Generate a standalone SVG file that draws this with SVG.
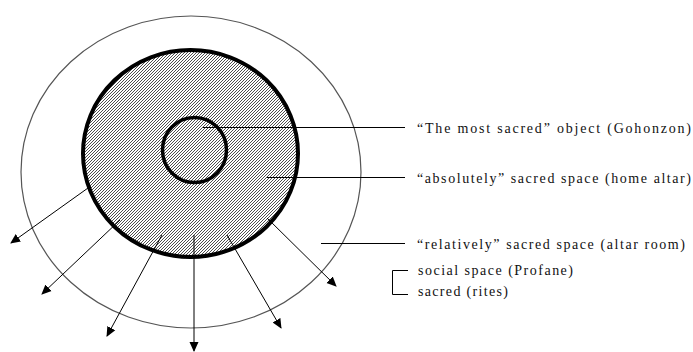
<svg xmlns="http://www.w3.org/2000/svg" width="693" height="352" viewBox="0 0 693 352">
<style>
.lbl{font-family:'Liberation Serif','Times New Roman',serif;font-size:14px;fill:#111}
.lead{stroke:#000;stroke-width:1;fill:none}
.arr{stroke:#000;stroke-width:1;fill:none;marker-end:url(#ah)}
</style>
<defs>
<pattern id="hatch" patternUnits="userSpaceOnUse" width="3" height="3">
<rect width="3" height="3" fill="#fff"/>
<path d="M-1,1 L1,-1 M0,3 L3,0 M2,4 L4,2" stroke="#3a3a3a" stroke-width="0.9"/>
</pattern>
<marker id="ah" viewBox="0 0 10 10" refX="9" refY="5" markerWidth="10" markerHeight="10" markerUnits="userSpaceOnUse" orient="auto">
<path d="M0,0.5 L10,5 L0,9.5 Z" fill="#000"/>
</marker>
</defs>
<rect width="693" height="352" fill="#fff"/>
<g id="relative-space">
<ellipse cx="191" cy="172" rx="170" ry="156" fill="none" stroke="#555" stroke-width="1.2"/>
</g>
<g id="absolute-space">
<ellipse cx="190.5" cy="153.5" rx="107.5" ry="103.5" fill="url(#hatch)" stroke="#000" stroke-width="4"/>
</g>
<g id="gohonzon">
<ellipse cx="194.5" cy="150" rx="32" ry="32.5" fill="none" stroke="#000" stroke-width="3.5"/>
</g>
<g id="connectors">
<line class="lead" x1="203" y1="127.5" x2="405" y2="127.5"/>
<line class="lead" x1="267" y1="177.5" x2="405" y2="177.5"/>
<line class="lead" x1="321" y1="243.5" x2="405" y2="243.5"/>
<path class="lead" d="M408,270.5 H392.5 V294.5 H408"/>
<line class="arr" x1="88" y1="188" x2="11" y2="243"/>
<line class="arr" x1="120" y1="220" x2="42" y2="294"/>
<line class="arr" x1="162" y1="235" x2="107" y2="336"/>
<line class="arr" x1="194" y1="235" x2="194" y2="351"/>
<line class="arr" x1="227" y1="235" x2="281" y2="328"/>
<line class="arr" x1="267" y1="218" x2="336" y2="286"/>
</g>
<g id="labels">
<text class="lbl" x="417" y="133" textLength="274" lengthAdjust="spacing">“The most sacred” object (Gohonzon)</text>
<text class="lbl" x="417" y="183" textLength="274" lengthAdjust="spacing">“absolutely” sacred space (home altar)</text>
<text class="lbl" x="417" y="249" textLength="268" lengthAdjust="spacing">“relatively” sacred space (altar room)</text>
<text class="lbl" x="418" y="275" textLength="155" lengthAdjust="spacing">social space (Profane)</text>
<text class="lbl" x="418" y="296" textLength="90" lengthAdjust="spacing">sacred (rites)</text>
</g>
</svg>
